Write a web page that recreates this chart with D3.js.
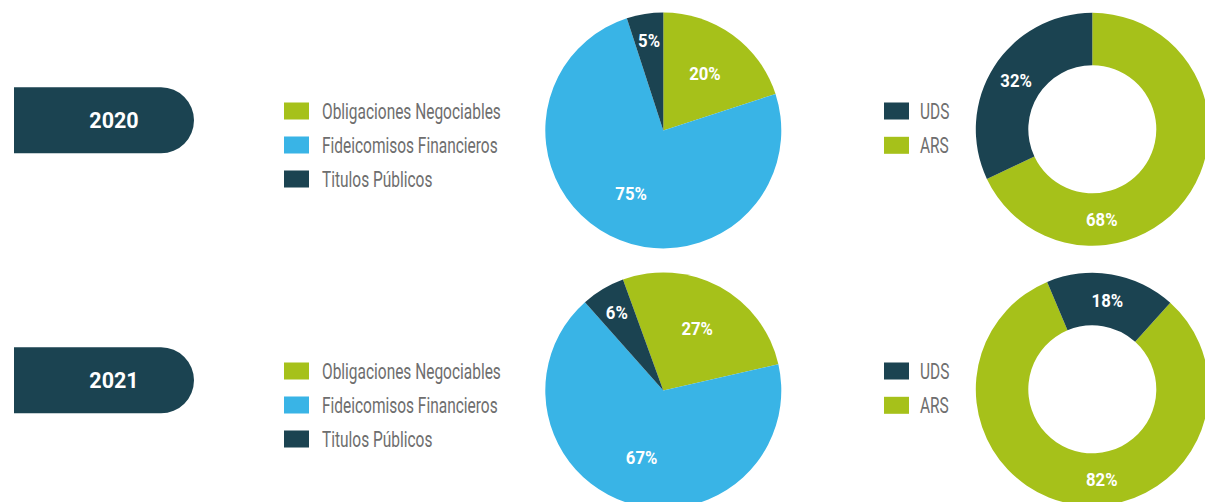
<!DOCTYPE html>
<html>
<head>
<meta charset="utf-8">
<script src="https://cdn.jsdelivr.net/npm/d3@7"></script>
<style>
  html, body { margin: 0; padding: 0; background: #fff; overflow: hidden; }
  svg { display: block; }
</style>
</head>
<body>
<svg id="chart" width="1205" height="502"></svg>
<script>
// ---- data ----
const years = ["2020", "2021"];
const instrumentLabels = ["Obligaciones Negociables", "Fideicomisos Financieros", "Titulos Públicos"];
const instrumentShares2020 = [20, 75, 5];
const instrumentShares2021 = [27, 67, 6];
const currencyLabels = ["UDS", "ARS"];
const currencyShares2020 = [32, 68];
const currencyShares2021 = [18, 82];

// ---- styles ----
const GREEN = "#a6c11a", BLUE = "#39b4e6", DARK = "#1b4351", GREY = "#6e6e6e";
const instrumentColors = [GREEN, BLUE, DARK];
const currencyColors = [DARK, GREEN];
const LEGEND_FONT = "Roboto, 'Noto Sans', sans-serif";
const CONDENSE = 0.72;      // horizontal squeeze for the narrow legend face
const LABEL_CONDENSE = 0.93;

const rows = [
  { year: years[0], inst: instrumentShares2020, cur: currencyShares2020, pieStart: 0, donutStart: 0 },
  { year: years[1], inst: instrumentShares2021, cur: currencyShares2021, pieStart: -20, donutStart: 42 }
];
const ROW_STEP = 260;

const svg = d3.select("#chart");
const deg = Math.PI / 180;

function condensedText(g, x, y, str, opts) {
  return g.append("text")
    .attr("transform", `translate(${x},${y}) scale(${opts.sx},1)`)
    .attr("dy", "0.36em")
    .attr("text-anchor", opts.anchor || "start")
    .attr("font-family", LEGEND_FONT)
    .attr("font-size", opts.size)
    .attr("font-weight", opts.weight || 400)
    .attr("fill", opts.fill)
    .text(str);
}

rows.forEach((row, ri) => {
  const g = svg.append("g").attr("transform", `translate(0,${ri * ROW_STEP})`);

  // year badge: square left end, round right end
  const bx = 14, bw = 180, bh = 66, by = 120.3 - bh / 2, br = bh / 2;
  g.append("path")
    .attr("d", `M${bx},${by} H${bx + bw - br} A${br},${br} 0 0 1 ${bx + bw - br},${by + bh} H${bx} Z`)
    .attr("fill", DARK);
  g.append("text")
    .attr("x", 114).attr("y", 120.3).attr("dy", "0.36em")
    .attr("text-anchor", "middle")
    .attr("font-family", LEGEND_FONT)
    .attr("font-size", 21.5).attr("font-weight", 700)
    .attr("fill", "#fff")
    .text(row.year);

  // instrument legend
  const leg1 = g.append("g");
  instrumentLabels.forEach((lab, i) => {
    const cy = 111 + i * 34;
    leg1.append("rect").attr("x", 284).attr("y", cy - 8.5).attr("width", 25).attr("height", 17)
      .attr("fill", instrumentColors[i]);
    condensedText(leg1, 322, cy, lab, { sx: CONDENSE, size: 21.5, fill: GREY });
  });

  // instrument pie
  const pieR = 118;
  const pieG = g.append("g").attr("transform", "translate(663.3,130.4)");
  const instData = row.inst.map((v, i) => ({ label: instrumentLabels[i], value: v, color: instrumentColors[i] }));
  const pieLayout = d3.pie().sort(null).value(d => d.value)
    .startAngle(row.pieStart * deg).endAngle(row.pieStart * deg + 2 * Math.PI);
  const pieArc = d3.arc().innerRadius(0).outerRadius(pieR);
  const pieArcs = pieLayout(instData);
  pieG.selectAll("path.slice").data(pieArcs).join("path")
    .attr("class", "slice")
    .attr("d", pieArc)
    .attr("fill", d => d.data.color);
  pieArcs.forEach(a => {
    const lr = a.data.value < 10 ? pieR * 0.77 : pieR * 0.6;
    const [x, y] = d3.arc().innerRadius(lr).outerRadius(lr).centroid(a);
    condensedText(pieG, x, y, a.data.value + "%",
      { sx: LABEL_CONDENSE, size: 18, weight: 700, fill: "#fff", anchor: "middle" });
  });

  // currency legend
  const leg2 = g.append("g");
  currencyLabels.forEach((lab, i) => {
    const cy = 111 + i * 34.3;
    leg2.append("rect").attr("x", 884).attr("y", cy - 8.5).attr("width", 25).attr("height", 17)
      .attr("fill", currencyColors[i]);
    condensedText(leg2, 920, cy, lab, { sx: CONDENSE, size: 21.5, fill: GREY });
  });

  // currency donut (ARS drawn first, clockwise)
  const outerR = 116.5, innerR = 64;
  const donutG = g.append("g").attr("transform", "translate(1092.3,129.3)");
  const curData = [
    { label: currencyLabels[1], value: row.cur[1], color: currencyColors[1] },
    { label: currencyLabels[0], value: row.cur[0], color: currencyColors[0] }
  ];
  const donutLayout = d3.pie().sort(null).value(d => d.value)
    .startAngle(row.donutStart * deg).endAngle(row.donutStart * deg + 2 * Math.PI);
  const donutArc = d3.arc().innerRadius(innerR).outerRadius(outerR);
  const donutArcs = donutLayout(curData);
  donutG.selectAll("path.slice").data(donutArcs).join("path")
    .attr("class", "slice")
    .attr("d", donutArc)
    .attr("fill", d => d.data.color);
  donutArcs.forEach(a => {
    const mid = (innerR + outerR) / 2;
    // slices that wrap the bottom carry their label near the bottom of the ring
    const a0 = a.startAngle, a1 = a.endAngle;
    let ang = (a0 + a1) / 2;
    if (a0 < Math.PI && a1 > Math.PI) ang = Math.PI - 6 * deg;
    const x = mid * Math.sin(ang), y = -mid * Math.cos(ang);
    condensedText(donutG, x, y, a.data.value + "%",
      { sx: LABEL_CONDENSE, size: 18, weight: 700, fill: "#fff", anchor: "middle" });
  });
});
</script>
</body>
</html>
